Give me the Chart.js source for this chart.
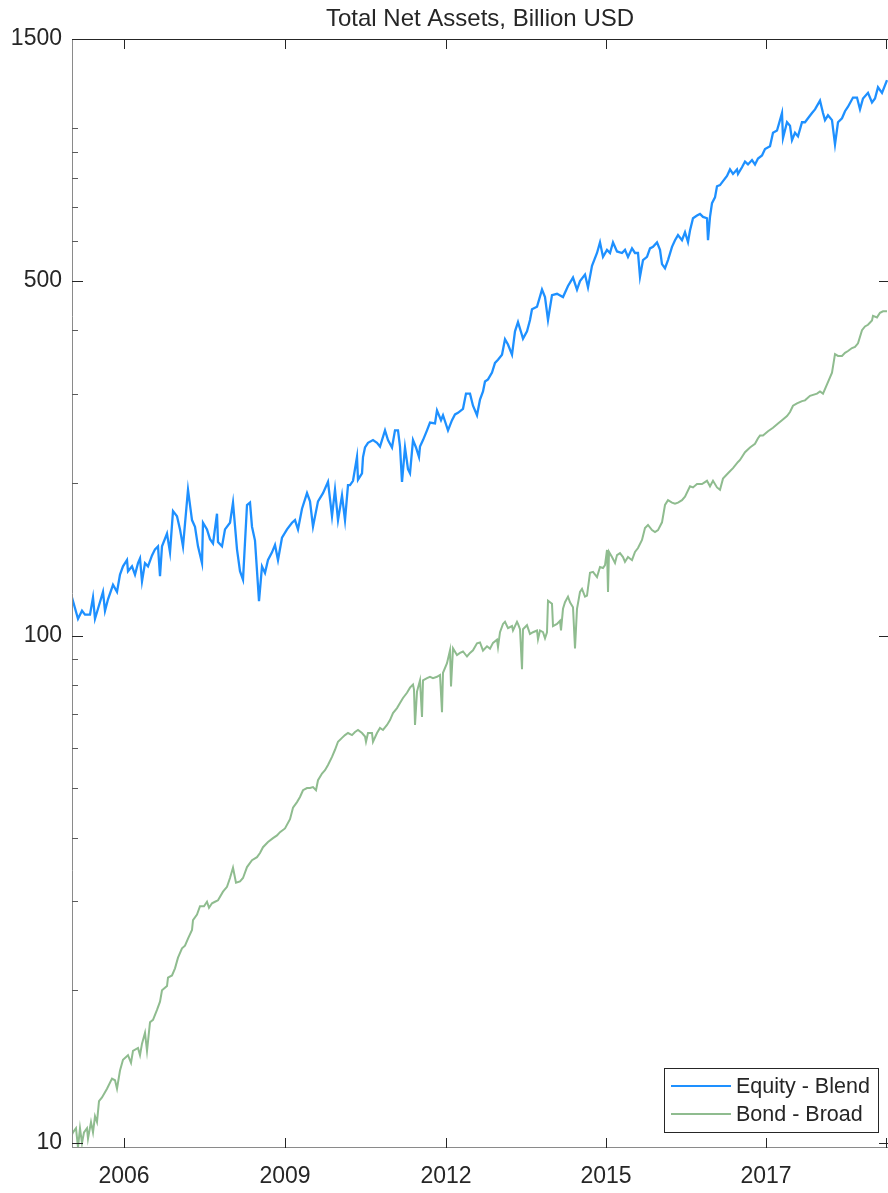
<!DOCTYPE html>
<html>
<head>
<meta charset="utf-8">
<script src="https://cdn.jsdelivr.net/npm/chart.js@4.4.1/dist/chart.umd.min.js"></script>
<style>
  html, body { margin: 0; padding: 0; background: #fff; }
  #wrap { width: 888px; height: 1193px; }
</style>
</head>
<body>
<div id="wrap"><canvas id="navChart" width="888" height="1193"></canvas></div>
<script>
// weekly observations (index from start of sample), values in billion USD
const equityWeeks = [
  0, 1, 6, 10, 13, 18, 21, 23, 26, 31,
  33, 36, 41, 45, 48, 51, 55, 56, 60, 63,
  66, 68, 70, 73, 76, 80, 83, 86, 88, 90,
  95, 98, 101, 105, 108, 111, 116, 120, 123, 126,
  130, 131, 135, 138, 141, 145, 146, 150, 153, 158,
  161, 165, 168, 171, 175, 178, 180, 183, 187, 190,
  193, 196, 200, 203, 206, 210, 215, 220, 223, 226,
  230, 235, 238, 241, 246, 251, 256, 260, 263, 266,
  270, 273, 276, 278, 281, 285, 286, 290, 291, 293,
  296, 301, 305, 308, 313, 316, 320, 323, 326, 328,
  330, 333, 336, 338, 341, 344, 347, 348, 351, 355,
  358, 363, 365, 369, 371, 376, 380, 383, 386, 391,
  394, 398, 401, 405, 408, 411, 413, 416, 420, 423,
  426, 430, 433, 436, 440, 443, 446, 450, 451, 455,
  458, 460, 465, 470, 473, 476, 480, 485, 491, 496,
  501, 505, 508, 513, 516, 520, 525, 528, 531, 535,
  538, 541, 545, 550, 553, 556, 560, 563, 566, 568,
  571, 575, 578, 581, 585, 588, 590, 593, 596, 600,
  603, 606, 610, 613, 616, 618, 621, 625, 628, 631,
  635, 636, 638, 640, 643, 645, 648, 651, 655, 658,
  661, 665, 666, 670, 673, 676, 680, 683, 686, 690,
  693, 698, 701, 705, 708, 710, 711, 715, 718, 720,
  723, 726, 730, 733, 736, 740, 743, 748, 751, 753,
  756, 760, 763, 766, 770, 773, 776, 781, 785, 788,
  791, 796, 800, 803, 806, 810, 815
];
const equityValues = [
  115, 117, 108, 112, 110, 110, 119, 108, 113, 122,
  112, 118, 126, 122, 132, 137, 141, 134, 137, 132,
  139, 142, 128, 139, 137, 144, 148, 150, 131, 150,
  159, 146, 176, 172, 162, 150, 194, 169, 164, 150,
  139, 167, 162, 155, 152, 174, 153, 150, 162, 167,
  183, 148, 134, 129, 181, 183, 164, 154, 117, 137,
  133, 141, 146, 151, 141, 156, 162, 167, 169, 162,
  178, 191, 184, 164, 184, 191, 201, 172, 194, 169,
  189, 169, 198, 198, 202, 225, 203, 209, 225, 235,
  240, 243, 240, 236, 254, 243, 235, 254, 254, 236,
  201, 235, 213, 209, 243, 235, 225, 236, 243, 254,
  263, 262, 278, 266, 272, 254, 266, 273, 275, 280,
  300, 300, 284, 272, 292, 303, 317, 320, 330, 345,
  350, 358, 384, 375, 358, 398, 415, 391, 385, 398,
  419, 440, 445, 481, 465, 419, 469, 472, 465, 489,
  508, 481, 500, 515, 486, 536, 568, 596, 558, 576,
  568, 596, 572, 568, 576, 558, 580, 568, 568, 510,
  550, 558, 580, 584, 596, 576, 540, 530, 550, 584,
  602, 616, 602, 624, 597, 629, 665, 673, 678, 669,
  665, 602, 669, 712, 731, 769, 773, 787, 806, 830,
  813, 830, 813, 838, 860, 849, 866, 849, 872, 884,
  910, 922, 980, 990, 1038, 1072, 957, 1028, 1012, 948,
  980, 964, 1028, 1028, 1047, 1072, 1090, 1134, 1072, 1038,
  1061, 1038, 930, 1028, 1047, 1081, 1103, 1150, 1150, 1090,
  1145, 1175, 1125, 1145, 1205, 1175, 1245
];

const bondWeeks = [
  0, 1, 4, 6, 8, 10, 12, 15, 16, 19,
  21, 23, 25, 27, 30, 35, 40, 43, 45, 48,
  51, 56, 59, 61, 66, 68, 70, 73, 75, 78,
  81, 85, 88, 90, 95, 96, 100, 103, 106, 110,
  113, 116, 120, 121, 125, 128, 132, 135, 137, 140,
  143, 146, 151, 155, 158, 161, 164, 168, 171, 175,
  180, 185, 188, 191, 196, 201, 205, 208, 213, 218,
  221, 225, 228, 231, 235, 238, 241, 244, 246, 250,
  253, 256, 260, 263, 266, 270, 273, 276, 280, 283,
  286, 290, 293, 294, 296, 300, 301, 305, 308, 311,
  315, 318, 321, 325, 328, 331, 335, 338, 341, 342,
  343, 345, 348, 350, 351, 355, 358, 361, 365, 368,
  370, 371, 375, 378, 379, 381, 385, 388, 391, 395,
  398, 401, 405, 408, 411, 415, 418, 421, 425, 426,
  428, 431, 433, 436, 440, 441, 445, 446, 448, 450,
  451, 455, 458, 461, 465, 466, 468, 471, 473, 475,
  476, 480, 481, 485, 488, 489, 491, 493, 496, 498,
  501, 503, 505, 508, 510, 513, 515, 518, 521, 525,
  528, 531, 533, 535, 536, 537, 540, 543, 545, 548,
  551, 553, 556, 560, 563, 566, 570, 573, 576, 580,
  583, 586, 590, 593, 596, 600, 603, 606, 610, 613,
  618, 621, 625, 630, 635, 638, 641, 645, 648, 651,
  656, 661, 666, 668, 673, 678, 683, 686, 688, 691,
  696, 701, 706, 710, 715, 718, 721, 725, 730, 733,
  738, 745, 748, 751, 755, 760, 763, 766, 770, 773,
  776, 780, 783, 786, 790, 793, 796, 800, 801, 805,
  808, 811, 815
];
const bondValues = [
  10.4, 10.5, 10.7, 9.8, 10.7, 10.0, 10.5, 10.7, 10.2, 11.0,
  10.5, 11.3, 11.0, 12.1, 12.3, 12.8, 13.4, 13.3, 12.8, 13.9,
  14.6, 14.9, 14.4, 15.2, 15.4, 14.9, 15.7, 16.5, 15.2, 17.3,
  17.5, 18.3, 19.0, 20.0, 20.4, 21.2, 21.4, 22.1, 23.2, 24.2,
  24.5, 25.3, 26.3, 27.5, 28.2, 29.3, 29.3, 29.9, 29.1, 29.7,
  29.9, 30.1, 31.3, 32.0, 33.3, 34.9, 32.6, 32.8, 33.3, 35.0,
  36.1, 36.6, 37.3, 38.3, 39.2, 39.9, 40.4, 41.0, 41.7, 43.5,
  45.8, 47.0, 48.1, 49.6, 50.1, 50.1, 50.3, 49.6, 51.9, 53.5,
  54.3, 55.6, 57.7, 59.6, 61.8, 62.9, 63.7, 64.3, 63.7, 64.6,
  65.2, 64.3, 63.3, 61.8, 64.3, 64.3, 61.8, 64.3, 65.8, 65.2,
  66.7, 68.2, 70.4, 72.0, 73.7, 75.4, 77.2, 79.0, 80.1, 78.3,
  66.7, 77.6, 81.7, 69.2, 81.7, 82.5, 83.0, 82.5, 83.0, 83.7,
  70.7, 84.5, 88.3, 93.6, 79.4, 94.4, 91.6, 92.5, 93.1, 91.0,
  92.5, 93.6, 96.6, 97.0, 93.5, 95.3, 94.3, 96.8, 98.2, 95.0,
  101.6, 105.5, 106.5, 103.5, 104.5, 102.4, 106.5, 105.5, 103.0, 85.9,
  103.0, 104.9, 100.8, 101.6, 102.4, 98.4, 102.4, 101.6, 98.8, 101.6,
  117.2, 115.6, 104.5, 105.5, 107.0, 102.4, 113.0, 116.4, 119.4, 116.4,
  113.8, 94.4, 113.0, 122.0, 123.7, 119.4, 120.0, 133.1, 133.6, 130.5,
  136.6, 136.0, 137.8, 147.6, 122.0, 146.3, 142.9, 139.1, 144.2, 145.5,
  142.9, 139.8, 142.9, 140.9, 146.3, 148.9, 154.4, 163.0, 165.3, 161.5,
  160.0, 161.5, 167.3, 181, 185, 183, 182, 183, 185, 188,
  197, 196, 199, 199, 202, 197, 202, 196, 194, 204,
  209, 214, 220, 222, 230, 235, 239, 245, 248, 248,
  253, 257, 262, 266, 271, 276, 284, 287, 290, 291,
  297, 300, 303, 300, 313, 330, 359, 356, 356, 361,
  364, 369, 371, 377, 400, 407, 410, 418, 427, 424,
  433, 436, 436
];

const seriesNames = ['Equity - Blend', 'Bond - Broad'];
const seriesColors = ['#1E90FF', '#8FBC8F'];

const yTickValues = [10, 100, 500, 1500];
const yMinorValues = [20, 30, 40, 50, 60, 70, 80, 90, 200, 300, 400, 600, 700, 800, 900, 1000];
const xTickWeeks = [52, 213, 374, 534, 694, 814];
const xTickLabels = ['2006', '2009', '2012', '2015', '2017', ''];

const FONT = '"Liberation Sans", Arial, Helvetica, sans-serif';
const TEXT = '#262626';

function toPoints(weeks, vals) {
  return weeks.map((w, i) => ({ x: w, y: vals[i] }));
}

// axis frame, tick marks, title and boxed legend (matlab look)
const frame = {
  id: 'frame',
  afterDraw(chart) {
    const ctx = chart.ctx;
    const { left, right, top, bottom } = chart.chartArea;
    const xs = chart.scales.x;
    const ys = chart.scales.y;
    ctx.save();
    ctx.lineWidth = 1;

    ctx.strokeStyle = '#8a8a8a';
    ctx.beginPath();
    ctx.moveTo(left + 0.5, top);
    ctx.lineTo(left + 0.5, bottom);
    ctx.moveTo(left, bottom - 0.5);
    ctx.lineTo(right, bottom - 0.5);
    ctx.stroke();

    ctx.strokeStyle = TEXT;
    ctx.beginPath();
    ctx.moveTo(left, top + 0.5);
    ctx.lineTo(right, top + 0.5);
    // major y ticks, both sides
    yTickValues.slice(0, 3).forEach(v => {
      const py = Math.round(ys.getPixelForValue(v)) + 0.5;
      ctx.moveTo(left, py); ctx.lineTo(left + 11, py);
      ctx.moveTo(right - 9, py); ctx.lineTo(right, py);
    });
    // x ticks, bottom and top
    xTickWeeks.forEach(w => {
      const px = Math.round(xs.getPixelForValue(w)) + 0.5;
      ctx.moveTo(px, bottom); ctx.lineTo(px, bottom - 10);
      ctx.moveTo(px, top); ctx.lineTo(px, top + 10);
    });
    ctx.stroke();

    ctx.strokeStyle = '#5a5a5a';
    ctx.beginPath();
    yMinorValues.forEach(v => {
      const py = Math.round(ys.getPixelForValue(v)) + 0.5;
      ctx.moveTo(left, py); ctx.lineTo(left + 6, py);
    });
    ctx.stroke();

    // title
    ctx.fillStyle = TEXT;
    ctx.font = '24px ' + FONT;
    ctx.textAlign = 'center';
    ctx.textBaseline = 'middle';
    ctx.fillText('Total Net Assets, Billion USD', (left + right) / 2, 19);

    // legend box, lower right
    const bw = 214, bh = 64;
    const bx = right - 10 - bw, by = bottom - 16 - bh;
    ctx.fillStyle = '#fff';
    ctx.fillRect(bx, by, bw, bh);
    ctx.strokeStyle = TEXT;
    ctx.strokeRect(bx + 0.5, by + 0.5, bw, bh);
    ctx.font = '21.5px ' + FONT;
    ctx.textAlign = 'left';
    chart.data.datasets.forEach((ds, i) => {
      const ly = by + 18 + i * 28;
      ctx.strokeStyle = ds.borderColor;
      ctx.lineWidth = 2;
      ctx.beginPath();
      ctx.moveTo(bx + 7, ly);
      ctx.lineTo(bx + 67, ly);
      ctx.stroke();
      ctx.fillStyle = TEXT;
      ctx.fillText(ds.label, bx + 72, ly + 1);
    });
    ctx.restore();
  }
};

new Chart(document.getElementById('navChart'), {
  type: 'line',
  data: {
    datasets: [
      {
        label: seriesNames[0],
        data: toPoints(equityWeeks, equityValues),
        borderColor: seriesColors[0],
        borderWidth: 2.3,
        pointRadius: 0,
        tension: 0,
        fill: false
      },
      {
        label: seriesNames[1],
        data: toPoints(bondWeeks, bondValues),
        borderColor: seriesColors[1],
        borderWidth: 2,
        pointRadius: 0,
        tension: 0,
        fill: false
      }
    ]
  },
  options: {
    responsive: false,
    animation: false,
    devicePixelRatio: 1,
    layout: { padding: { top: 39, right: 0, left: 0, bottom: 0 } },
    plugins: {
      legend: { display: false },
      title: { display: false },
      tooltip: { enabled: false }
    },
    scales: {
      x: {
        type: 'linear',
        min: 0,
        max: 816,
        grid: { display: false, drawTicks: false },
        border: { display: false },
        afterBuildTicks: s => { s.ticks = xTickWeeks.map(v => ({ value: v })); },
        afterFit: s => {
          s.height = 45;
          // label padding would otherwise pull the plot in from the right edge
          s.paddingLeft = 0;
          s.paddingRight = 0;
        },
        ticks: {
          autoSkip: false,
          maxRotation: 0,
          padding: 15,
          color: TEXT,
          font: { family: FONT, size: 23 },
          callback: v => {
            const i = xTickWeeks.indexOf(v);
            return i >= 0 ? xTickLabels[i] : '';
          }
        }
      },
      y: {
        type: 'logarithmic',
        min: 9.78,
        max: 1500,
        grid: { display: false, drawTicks: false },
        border: { display: false },
        afterBuildTicks: s => { s.ticks = yTickValues.map(v => ({ value: v })); },
        afterFit: s => { s.width = 72; },
        ticks: {
          autoSkip: false,
          padding: 10,
          color: TEXT,
          font: { family: FONT, size: 23 },
          callback: v => String(v)
        }
      }
    }
  },
  plugins: [frame]
});
</script>
</body>
</html>
